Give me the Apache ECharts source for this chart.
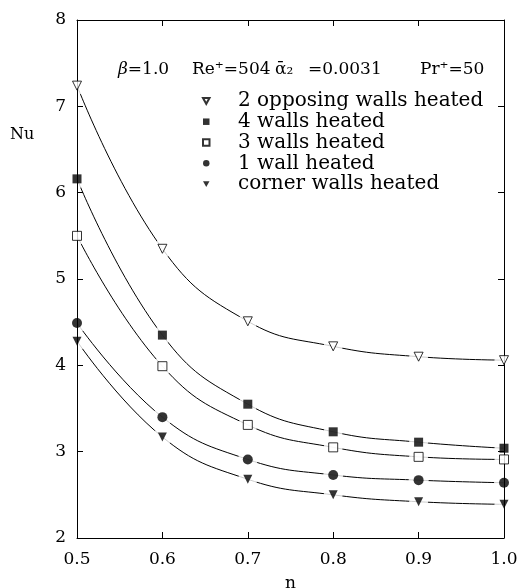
<!DOCTYPE html>
<html><head><meta charset="utf-8">
<script src="https://cdn.jsdelivr.net/npm/echarts@6/dist/echarts.min.js"></script>
<style>html,body{margin:0;padding:0;background:#fff}#c{width:521px;height:588px}</style>
</head><body><div id="c"></div>
<script>
const nValues = [0.5, 0.6, 0.7, 0.8, 0.9, 1.0];
const seriesNames = ['2 opposing walls heated', '4 walls heated', '3 walls heated', '1 wall heated', 'corner walls heated'];
const opposing2 = [7.24, 5.35, 4.51, 4.22, 4.10, 4.06];
const walls4 = [6.16, 4.35, 3.55, 3.23, 3.11, 3.04];
const walls3 = [5.50, 3.99, 3.31, 3.05, 2.94, 2.91];
const wall1 = [4.49, 3.40, 2.91, 2.73, 2.67, 2.64];
const corner = [4.28, 3.17, 2.68, 2.50, 2.42, 2.39];
const yTicks = [2, 3, 4, 5, 6, 7, 8];
const headerParts = ['β=1.0', 'Re⁺=504', 'ᾱ₂', '=0.0031', 'Pr⁺=50'];

const FONT = 'DejaVu Serif';
const TRI_DOWN = 'path://M0,0 L10,0 L5,9 Z';
const allValues = [opposing2, walls4, walls3, wall1, corner];
const symbols = [TRI_DOWN, 'rect', 'rect', 'circle', TRI_DOWN];
const filled = [false, true, false, true, true];
const sizes = [9, 9, 9, 10, 9];

const series = [];
allValues.forEach((vals, i) => {
  const data = nValues.map((x, k) => [x, vals[k]]);
  series.push({
    type: 'line', name: seriesNames[i] + ' curve', data, smooth: 0.45,
    symbol: 'none', z: 1, silent: true,
    lineStyle: { color: '#000', width: 1 }
  });
  series.push({
    type: 'scatter', name: seriesNames[i] + ' halo', data, z: 2, silent: true,
    symbol: 'circle', symbolSize: sizes[i] + 10,
    itemStyle: { color: '#fff', borderWidth: 0 }
  });
  series.push({
    type: 'scatter', name: seriesNames[i], data, z: 4,
    symbol: symbols[i], symbolSize: sizes[i],
    itemStyle: filled[i] ? { color: '#000', borderWidth: 0 }
                         : { color: '#fff', borderColor: '#000', borderWidth: 1 }
  });
});

const chart = echarts.init(document.getElementById('c'), null, { renderer: 'canvas' });
const axisCommon = {
  axisLine: { show: true, lineStyle: { color: '#000', width: 1 } },
  splitLine: { show: false },
  z: 3
};
const tick = { show: true, inside: true, length: 6, lineStyle: { color: '#000' } };
const headerX = [118, 192, 275, 308, 420];
chart.setOption({
  animation: false,
  backgroundColor: '#fff',
  grid: { left: 77, right: 17, top: 20, bottom: 50, containLabel: false, outerBoundsMode: 'none' },
  xAxis: [
    Object.assign({}, axisCommon, {
      type: 'value', min: 0.5, max: 1.0, interval: 0.1, position: 'bottom',
      name: 'n', nameLocation: 'middle', nameGap: 37,
      nameTextStyle: { fontFamily: FONT, fontSize: 17, color: '#000' },
      axisTick: tick,
      axisLabel: { fontFamily: FONT, fontSize: 17, color: '#000', margin: 13,
        formatter: v => v.toFixed(1) }
    }),
    Object.assign({}, axisCommon, {
      type: 'value', min: 0.5, max: 1.0, interval: 0.1, position: 'top',
      axisTick: tick, axisLabel: { show: false }
    })
  ],
  yAxis: [
    Object.assign({}, axisCommon, {
      type: 'value', min: yTicks[0], max: yTicks[yTicks.length - 1], interval: 1, position: 'left',
      axisTick: tick,
      axisLabel: { fontFamily: FONT, fontSize: 17, color: '#000', margin: 11 }
    }),
    Object.assign({}, axisCommon, {
      type: 'value', min: yTicks[0], max: yTicks[yTicks.length - 1], interval: 1, position: 'right',
      axisTick: tick, axisLabel: { show: false }
    })
  ],
  legend: {
    data: seriesNames.map(name => ({ name })),
    orient: 'vertical', left: 197, top: 85.5,
    itemWidth: 6.5, itemHeight: 6.5, itemGap: 0,
    selectedMode: false,
    textStyle: { fontFamily: FONT, fontSize: 20, color: '#000', lineHeight: 20.8, padding: [0, 0, 0, 23.5] }
  },
  graphic: headerParts.map((t, i) => ({
    type: 'text', left: headerX[i], top: 61, z: 10,
    style: {
      text: i === 0 ? '{g|β}=1.0' : t,
      font: '17px "DejaVu Serif"', fill: '#000',
      rich: { g: { fontFamily: FONT, fontSize: 17, fontStyle: 'italic', fill: '#000' } }
    }
  })).concat([{
    type: 'text', left: 10, top: 127, z: 10,
    style: { text: 'Nu', font: '16px "DejaVu Serif"', fill: '#000' }
  }]),
  series
});
</script></body></html>
